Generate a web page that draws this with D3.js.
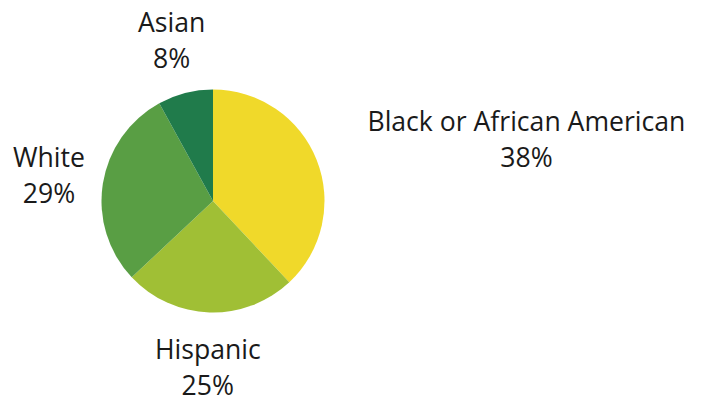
<!DOCTYPE html>
<html>
<head>
<meta charset="utf-8">
<script src="https://cdn.jsdelivr.net/npm/d3@7"></script>
<style>
  html, body { margin: 0; padding: 0; background: #fff; }
  svg { display: block; }
  text { font-family: "Open Sans", sans-serif; }
</style>
</head>
<body>
<svg id="chart" width="702" height="402"></svg>
<script>
// Chart data
const groups = ["Black or African American", "Hispanic", "White", "Asian"];
const shares = [38, 25, 29, 8];
const colors = ["#f0d92a", "#a0bf35", "#599e44", "#207b4b"];

const svg = d3.select("#chart");
const cx = 213, cy = 201;
const radius = 111.5;
const labelRadius = radius * 1.49;

const data = groups.map((g, i) => ({ group: g, value: shares[i], color: colors[i] }));

const pie = d3.pie()
  .value(d => d.value)
  .sort(null);

const arc = d3.arc()
  .innerRadius(0)
  .outerRadius(radius);

const labelArc = d3.arc()
  .innerRadius(labelRadius)
  .outerRadius(labelRadius);

const g = svg.append("g")
  .attr("transform", `translate(${cx},${cy})`);

const arcs = pie(data);

g.selectAll("path.slice")
  .data(arcs)
  .join("path")
  .attr("class", "slice")
  .attr("d", arc)
  .attr("fill", d => d.data.color);

// Labels: two centred lines on the label arc point; if the block would
// run into the pie, push it out so its near edge sits on that point
const labels = g.selectAll("text.label")
  .data(arcs)
  .join("text")
  .attr("class", "label")
  .attr("font-size", 26.6)
  .attr("fill", "#1a1a1a")
  .attr("text-anchor", "middle");

labels.append("tspan")
  .attr("class", "name")
  .text(d => d.data.group);

labels.append("tspan")
  .attr("class", "pct")
  .text(d => d.data.value + "%");

labels.each(function(d) {
  const [x, y] = labelArc.centroid(d);
  const t = d3.select(this);
  const name = t.select("tspan.name").node();
  const pct = t.select("tspan.pct").node();
  const w = Math.max(name.getComputedTextLength(), pct.getComputedTextLength());
  let lx = x;
  if (Math.abs(y) < radius && Math.abs(x) - w / 2 < radius) {
    lx = x > 0 ? x + w / 2 : x - w / 2;
  }
  t.select("tspan.name").attr("x", lx).attr("y", y - 8.5);
  t.select("tspan.pct").attr("x", lx).attr("y", y + 27.5);
});
</script>
</body>
</html>
